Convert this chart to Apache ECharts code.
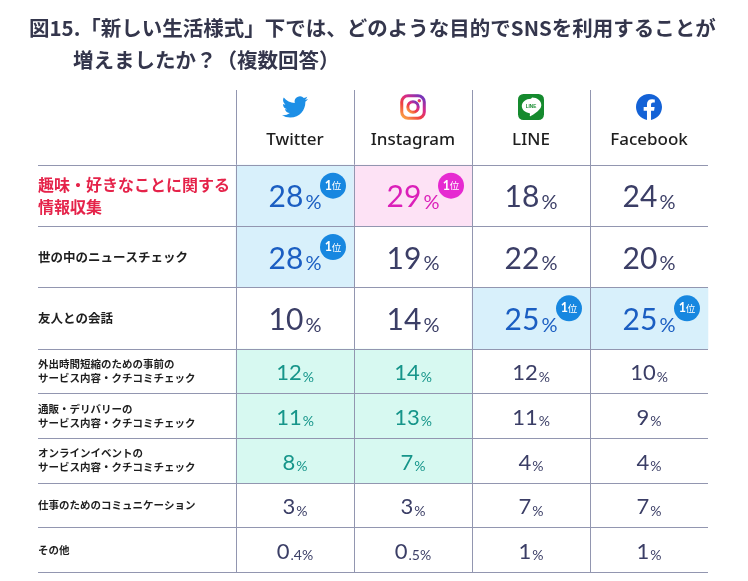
<!DOCTYPE html>
<html>
<head>
<meta charset="utf-8">
<script src="https://cdn.jsdelivr.net/npm/echarts/dist/echarts.min.js"></script>
<style>
html, body { margin: 0; padding: 0; background: #fff; }
#main { width: 748px; height: 581px; }
</style>
</head>
<body>
<div id="main"></div>
<script>
var platforms = ['Twitter', 'Instagram', 'LINE', 'Facebook'];
var topPurposes = ['趣味・好きなことに関する\n情報収集', '世の中のニュースチェック', '友人との会話'];
var bottomPurposes = [
    '外出時間短縮のための事前の\nサービス内容・クチコミチェック',
    '通販・デリバリーの\nサービス内容・クチコミチェック',
    'オンラインイベントの\nサービス内容・クチコミチェック',
    '仕事のためのコミュニケーション',
    'その他'
];
var twitterValues = [28, 28, 10, 12, 11, 8, 3, 0.4];
var instagramValues = [29, 19, 14, 14, 13, 7, 3, 0.5];
var lineValues = [18, 22, 25, 12, 11, 4, 7, 1];
var facebookValues = [24, 20, 25, 10, 9, 4, 7, 1];
// tinted cells, row by row in platform order
var cellTint = [
    ['blue', 'pink', '', ''],
    ['blue', '', '', ''],
    ['', '', 'blue', 'blue'],
    ['mint', 'mint', '', ''],
    ['mint', 'mint', '', ''],
    ['mint', 'mint', '', ''],
    ['', '', '', ''],
    ['', '', '', '']
];

var columns = [twitterValues, instagramValues, lineValues, facebookValues];
var tints = {
    '': { bg: 'rgba(0,0,0,0)', fg: '#3b3e66', badge: '#1787e0' },
    blue: { bg: '#d8f0fb', fg: '#1b5ec2', badge: '#1787e0' },
    pink: { bg: '#fde2f5', fg: '#db1fb9', badge: '#e62ad1' },
    mint: { bg: '#d7f9f1', fg: '#16958a', badge: '#1787e0' }
};
var gridLine = '#9296b0';

function svgUri(s) {
    return 'data:image/svg+xml;charset=utf-8,' + encodeURIComponent(s);
}
var icons = {
    Twitter: svgUri('<svg xmlns="http://www.w3.org/2000/svg" viewBox="0 0 24 24"><path fill="#1d8fe6" d="M23.953 4.57a10 10 0 01-2.825.775 4.958 4.958 0 002.163-2.723c-.951.555-2.005.959-3.127 1.184a4.92 4.92 0 00-8.384 4.482C7.69 8.095 4.067 6.13 1.64 3.162a4.822 4.822 0 00-.666 2.475c0 1.71.87 3.213 2.188 4.096a4.904 4.904 0 01-2.228-.616v.06a4.923 4.923 0 003.946 4.827 4.996 4.996 0 01-2.212.085 4.936 4.936 0 004.604 3.417 9.867 9.867 0 01-6.102 2.105c-.39 0-.779-.023-1.17-.067a13.995 13.995 0 007.557 2.209c9.053 0 13.998-7.496 13.998-13.985 0-.21 0-.42-.015-.63A9.935 9.935 0 0024 4.59z"/></svg>'),
    Instagram: svgUri('<svg xmlns="http://www.w3.org/2000/svg" viewBox="0 0 24 24"><defs><linearGradient id="g" x1="0" y1="1" x2="0.8" y2="0"><stop offset="0" stop-color="#fcb045"/><stop offset="0.4" stop-color="#f0413f"/><stop offset="0.7" stop-color="#d62a8a"/><stop offset="1" stop-color="#7a36b8"/></linearGradient></defs><rect x="1.6" y="1.6" width="20.8" height="20.8" rx="5.8" fill="none" stroke="url(#g)" stroke-width="2.8"/><circle cx="12" cy="12" r="4.8" fill="none" stroke="url(#g)" stroke-width="2.8"/><circle cx="17.8" cy="6.2" r="1.6" fill="url(#g)"/></svg>'),
    LINE: svgUri('<svg xmlns="http://www.w3.org/2000/svg" viewBox="0 0 24 24"><rect width="24" height="24" rx="5" fill="#158a2e"/><path fill="#fff" d="M12 4.3c-4.7 0-8.5 3.1-8.5 6.8 0 3.3 3 6.1 7.1 6.6.3.1.6.3.5.7l-.2 1.3c0 .3-.2 1.2 1 .6 1.2-.5 6.4-3.8 8.1-6.4 1-1.1 1.5-2.4 1.5-3.8 0-3.7-3.8-6.8-8.5-6.8z"/><text x="12" y="12.6" font-size="4.3" font-family="Arial" font-weight="bold" text-anchor="middle" fill="#158a2e">LINE</text></svg>'),
    Facebook: svgUri('<svg xmlns="http://www.w3.org/2000/svg" viewBox="0 0 24 24"><path fill="#1462d6" d="M24 12.073c0-6.627-5.373-12-12-12s-12 5.373-12 12c0 5.99 4.388 10.954 10.125 11.854v-8.385H7.078v-3.47h3.047V9.43c0-3.007 1.792-4.669 4.533-4.669 1.312 0 2.686.235 2.686.235v2.953H15.83c-1.491 0-1.956.925-1.956 1.874v2.25h3.328l-.532 3.47h-2.796v8.385C19.612 23.027 24 18.062 24 12.073z"/></svg>')
};
var iconKeys = { Twitter: 'tw', Instagram: 'ig', LINE: 'ln', Facebook: 'fb' };

function fmt(v, big) {
    var parts = String(v).split('.');
    var d = big ? 'bd' : 'sd', p = big ? 'bp' : 'sp';
    return '{' + d + '|' + parts[0] + '}{' + p + '|' + (parts[1] ? '.' + parts[1] : '') + '%}';
}

function cells(from, to, big) {
    var out = [];
    for (var r = from; r < to; r++) {
        for (var c = 0; c < platforms.length; c++) {
            var t = tints[cellTint[r][c]];
            out.push({
                value: [c, r - from, columns[c][r]],
                itemStyle: { color: t.bg },
                label: { color: t.fg, formatter: fmt(columns[c][r], big) }
            });
        }
    }
    return out;
}

// 1位 = highest value of each platform
function badges(from, to) {
    var out = [];
    for (var c = 0; c < platforms.length; c++) {
        var top = Math.max.apply(null, columns[c]);
        for (var r = from; r < to; r++) {
            if (columns[c][r] === top) {
                out.push({ value: [c, r - from], itemStyle: { color: tints[cellTint[r][c]].badge } });
            }
        }
    }
    return out;
}

function purposeLabel(style) {
    return function (value, index) {
        var s = style(index);
        return value.split('\n').map(function (l) { return '{' + s + '|' + l + '}'; }).join('\n');
    };
}

var numberRich = {
    bd: { fontFamily: 'Lato', fontSize: 30, lineHeight: 34, verticalAlign: 'bottom' },
    bp: { fontFamily: 'Lato', fontSize: 20, lineHeight: 34, verticalAlign: 'bottom', padding: [0, 0, 0, 2] },
    sd: { fontFamily: 'Lato', fontSize: 22, lineHeight: 26, verticalAlign: 'bottom' },
    sp: { fontFamily: 'Lato', fontSize: 14, lineHeight: 26, verticalAlign: 'bottom', padding: [0, 0, 0, 1] }
};
var labelRich = {
    hl: { fontFamily: 'Noto Sans CJK JP', fontSize: 16, fontWeight: 'bold', color: '#e5234a', lineHeight: 22 },
    m: { fontFamily: 'Noto Sans CJK JP', fontSize: 12.5, fontWeight: 'bold', color: '#1e1e1e', lineHeight: 16 },
    s: { fontFamily: 'Noto Sans CJK JP', fontSize: 10.5, fontWeight: 'bold', color: '#1e1e1e', lineHeight: 14 }
};
var headerRich = {
    name: { fontFamily: 'Noto Sans', fontSize: 17, fontWeight: 500, color: '#1e1e1e', lineHeight: 40 }
};
platforms.forEach(function (p) {
    headerRich[iconKeys[p]] = { backgroundColor: { image: icons[p] }, width: 26, height: 26, lineHeight: 26 };
});

function tableXAxis(gridIndex) {
    return {
        gridIndex: gridIndex,
        type: 'category',
        data: platforms,
        z: 5,
        axisLine: { show: false },
        axisTick: { show: false },
        axisLabel: { show: false },
        splitLine: { show: true, interval: 0, showMaxLine: false, lineStyle: { color: gridLine, width: 1 } }
    };
}
function tableYAxis(gridIndex, data, style) {
    return {
        gridIndex: gridIndex,
        type: 'category',
        data: data,
        inverse: true,
        z: 5,
        axisLine: { show: false },
        axisTick: { show: true, interval: 0, length: 198, lineStyle: { color: gridLine, width: 1 } },
        splitLine: { show: true, interval: 0, lineStyle: { color: gridLine, width: 1 } },
        axisLabel: { interval: 0, align: 'left', margin: 198, formatter: purposeLabel(style), rich: labelRich }
    };
}

var dom = document.getElementById('main');
var myChart = echarts.init(dom, null, { renderer: 'canvas' });
var option;

option = {
    animation: false,
    backgroundColor: '#fff',
    textStyle: { fontFamily: 'Noto Sans CJK JP' },
    title: [
        {
            text: '図15.「新しい生活様式」下では、どのような目的でSNSを利用することが',
            left: 29, top: 18, padding: 0,
            textStyle: { fontFamily: 'Noto Sans CJK JP', fontSize: 20.5, fontWeight: 'bold', color: '#34364c' }
        },
        {
            text: '増えましたか？（複数回答）',
            left: 73, top: 50, padding: 0,
            textStyle: { fontFamily: 'Noto Sans CJK JP', fontSize: 20.5, fontWeight: 'bold', color: '#34364c' }
        }
    ],
    grid: [
        { left: 236, top: 90, width: 472, height: 75, outerBoundsMode: 'none' },
        { left: 236, top: 165, width: 472, height: 184, outerBoundsMode: 'none' },
        { left: 236, top: 349, width: 472, height: 223, outerBoundsMode: 'none' }
    ],
    xAxis: [
        {
            gridIndex: 0,
            type: 'category',
            data: platforms,
            axisLine: { show: false },
            axisTick: { show: false },
            splitLine: { show: true, interval: 0, showMaxLine: false, lineStyle: { color: gridLine, width: 1 } },
            axisLabel: {
                inside: true,
                margin: 5,
                interval: 0,
                formatter: function (value) {
                    return '{' + iconKeys[value] + '| }\n{name|' + value + '}';
                },
                rich: headerRich
            }
        },
        tableXAxis(1),
        tableXAxis(2)
    ],
    yAxis: [
        { gridIndex: 0, type: 'category', data: [''], show: false },
        tableYAxis(1, topPurposes, function (i) { return i === 0 ? 'hl' : 'm'; }),
        tableYAxis(2, bottomPurposes, function () { return 's'; })
    ],
    series: [
        {
            type: 'heatmap',
            xAxisIndex: 1,
            yAxisIndex: 1,
            data: cells(0, 3, true),
            label: { show: true, rich: numberRich },
            emphasis: { disabled: true }
        },
        {
            type: 'heatmap',
            xAxisIndex: 2,
            yAxisIndex: 2,
            data: cells(3, 8, false),
            label: { show: true, rich: numberRich },
            emphasis: { disabled: true }
        },
        {
            type: 'scatter',
            xAxisIndex: 1,
            yAxisIndex: 1,
            z: 4,
            symbol: 'circle',
            symbolSize: 26,
            symbolOffset: [38, -10],
            itemStyle: { opacity: 1 },
            data: badges(0, 3),
            label: {
                show: true,
                position: 'inside',
                formatter: '{a|1}{b|位}',
                rich: {
                    a: { fontFamily: 'Lato', fontSize: 12.5, fontWeight: 'bold', color: '#fff' },
                    b: { fontFamily: 'Noto Sans CJK JP', fontSize: 9.5, color: '#fff' }
                }
            },
            emphasis: { disabled: true }
        }
    ]
};

if (option && typeof option === 'object') {
    myChart.setOption(option);
}

window.addEventListener('resize', myChart.resize);
</script>
</body>
</html>
